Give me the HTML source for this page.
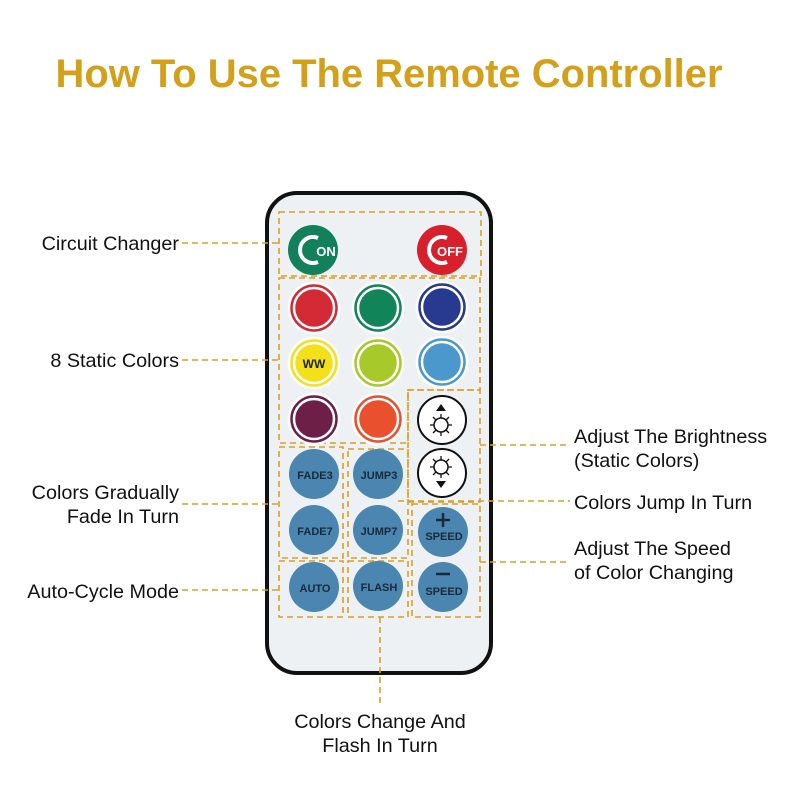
<!DOCTYPE html>
<html><head><style>body{margin:0;background:#fff}svg{display:block}</style></head><body>
<svg width="800" height="800" xmlns="http://www.w3.org/2000/svg" font-family="Liberation Sans, sans-serif">
<text x="389" y="87" text-anchor="middle" font-size="40" font-weight="bold" fill="#d4a01a" textLength="667" lengthAdjust="spacingAndGlyphs">How To Use The Remote Controller</text>
<rect x="267" y="193" width="224" height="480" rx="30" fill="#eef1f4" stroke="#111" stroke-width="4"/>
<g fill="#111" font-size="19.8">
<text x="179" y="250" text-anchor="end">Circuit Changer</text>
<text x="179" y="367" text-anchor="end">8 Static Colors</text>
<text x="179" y="499" text-anchor="end">Colors Gradually</text>
<text x="179" y="523" text-anchor="end">Fade In Turn</text>
<text x="179" y="598" text-anchor="end">Auto-Cycle Mode</text>
<text x="574" y="443">Adjust The Brightness</text>
<text x="574" y="467">(Static Colors)</text>
<text x="574" y="509">Colors Jump In Turn</text>
<text x="574" y="555">Adjust The Speed</text>
<text x="574" y="579">of Color Changing</text>
<text x="380" y="728" text-anchor="middle">Colors Change And</text>
<text x="380" y="752" text-anchor="middle">Flash In Turn</text>
</g>
<g fill="none" stroke="#d9a020" stroke-width="1.6" stroke-dasharray="6,4">
<rect x="279" y="212" width="202" height="64"/>
<path d="M279 278 H480 V390 H408 V443 H279 Z"/>
<rect x="408" y="390" width="72" height="112"/>
<rect x="279" y="447" width="64" height="111"/>
<rect x="279" y="561" width="64" height="56"/>
<rect x="348" y="449" width="60" height="109"/>
<rect x="348" y="561" width="60" height="56"/>
<rect x="412" y="504" width="68" height="113"/>
<path d="M182 243 H279 M182 360 H279 M182 504 H279 M182 590 H279 M480 445 H570 M398 501 H570 M480 562 H570 M380 617 V705"/>
</g>
<circle cx="313" cy="250" r="25" fill="#12805a"/>
<path d="M318 238 A13 13 0 1 0 318 262" fill="none" stroke="#fff" stroke-width="4"/>
<text x="326" y="256" text-anchor="middle" font-size="13" font-weight="bold" fill="#fff">ON</text>
<circle cx="442" cy="250" r="25" fill="#d8202c"/>
<path d="M447 238 A13 13 0 1 0 447 262" fill="none" stroke="#fff" stroke-width="4"/>
<text x="450" y="256" text-anchor="middle" font-size="13" font-weight="bold" fill="#fff">OFF</text>
<g stroke="#fff" stroke-width="2.5">
<circle cx="314" cy="308" r="25" fill="#d42a35"/><circle cx="314" cy="308" r="20" fill="none"/>
<circle cx="378" cy="308" r="25" fill="#12845a"/><circle cx="378" cy="308" r="20" fill="none"/>
<circle cx="442" cy="307" r="25" fill="#283a8f"/><circle cx="442" cy="307" r="20" fill="none"/>
<circle cx="314" cy="363" r="25" fill="#f3e01a"/><circle cx="314" cy="363" r="20" fill="none"/>
<circle cx="378" cy="363" r="25" fill="#a8c92a"/><circle cx="378" cy="363" r="20" fill="none"/>
<circle cx="442" cy="362" r="25" fill="#4a98cc"/><circle cx="442" cy="362" r="20" fill="none"/>
<circle cx="314" cy="419" r="25" fill="#6e1f48"/><circle cx="314" cy="419" r="20" fill="none"/>
<circle cx="378" cy="419" r="25" fill="#e8502e"/><circle cx="378" cy="419" r="20" fill="none"/>
</g>
<text x="314" y="368" text-anchor="middle" font-size="12" font-weight="bold" fill="#222">WW</text>
<g stroke="#111" stroke-width="2">
<circle cx="442" cy="420" r="24" fill="#fff"/>
<circle cx="442" cy="473" r="24" fill="#fff"/>
<circle cx="441" cy="425" r="7" fill="none" stroke-width="1.5"/>
<circle cx="441" cy="467" r="7" fill="none" stroke-width="1.5"/>
<path d="M441 414v4M441 432v4M430 425h4M448 425h4M433 417l3 3M446 430l3 3M433 433l3-3M446 420l3-3M441 456v4M441 474v4M430 467h4M448 467h4M433 459l3 3M446 472l3 3M433 475l3-3M446 462l3-3" stroke-width="1.3"/>
</g>
<path d="M436 411 L446 411 L441 404 Z M436 481 L446 481 L441 488 Z" fill="#111"/>
<g fill="#4a86b0">
<circle cx="314" cy="474" r="25"/><circle cx="378" cy="474" r="25"/>
<circle cx="314" cy="530" r="25"/><circle cx="378" cy="530" r="25"/>
<circle cx="314" cy="587" r="25"/><circle cx="378" cy="586" r="25"/>
<circle cx="443" cy="532" r="25"/><circle cx="443" cy="587" r="25"/>
</g>
<g font-size="11" font-weight="bold" fill="#1a2a3a" text-anchor="middle">
<text x="315" y="479">FADE3</text><text x="379" y="479">JUMP3</text>
<text x="315" y="535">FADE7</text><text x="379" y="535">JUMP7</text>
<text x="315" y="592">AUTO</text><text x="379" y="591">FLASH</text>
<text x="444" y="540">SPEED</text><text x="444" y="595">SPEED</text>
</g>
<path d="M443 513v14M436 520h14M436 574h14" stroke="#1a2a3a" stroke-width="2.5"/>
</svg>
</body></html>
